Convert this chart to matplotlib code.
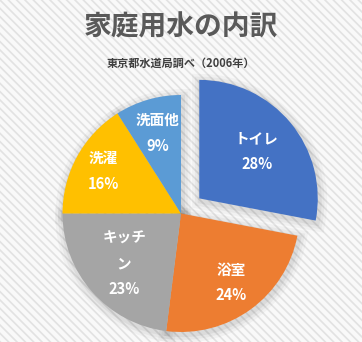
import matplotlib as mpl
mpl.use("Agg")
import matplotlib.pyplot as plt
from matplotlib.patches import Rectangle, Wedge
import numpy as np

plt.rcParams['font.family'] = ['Noto Sans CJK JP', 'DejaVu Sans']
plt.rcParams['hatch.linewidth'] = 1.2

# 家庭用水の内訳（東京都水道局調べ 2006年）
names = ["トイレ", "浴室", "キッチ\nン", "洗濯", "洗面他"]
shares = [28, 24, 23, 16, 9]
colors = ["#4472C4", "#ED7D31", "#A5A5A5", "#FFC000", "#5B9BD5"]
explode = [0.2, 0, 0, 0, 0]
label_r = [0.63, 0.72, 0.64, 0.75, 0.71]

fig = plt.figure(figsize=(3.62, 3.42), dpi=100)
fig.patch.set_facecolor("#f7f7f7")
# 斜線模様の背景
fig.patches.append(Rectangle((0, 0), 1, 1, transform=fig.transFigure,
                             facecolor="#f9f9f9", edgecolor="#e2e2e2",
                             hatch="\\\\\\\\", lw=0, zorder=-10))

ax = fig.add_axes([0, 0, 1, 1])
ax.patch.set_alpha(0)

wedges, _ = ax.pie(shares, colors=colors, explode=explode, startangle=90,
                   counterclock=False, radius=1.0,
                   wedgeprops=dict(linewidth=0))

# 影
for w in wedges:
    for lw, a in [(12, 0.03), (8, 0.04), (4, 0.05)]:
        s = Wedge((w.center[0] + 0.01, w.center[1] - 0.02), w.r, w.theta1, w.theta2,
                  facecolor="none", edgecolor="#000000", lw=lw, alpha=a, zorder=0)
        ax.add_patch(s)
    w.set_zorder(1)

for w, name, v, r in zip(wedges, names, shares, label_r):
    mid = np.deg2rad((w.theta1 + w.theta2) / 2)
    cx, cy = w.center
    ax.text(cx + r * np.cos(mid), cy + r * np.sin(mid), f"{name}\n{v}%",
            ha="center", va="center", color="white", fontsize=10.5,
            fontweight="bold", linespacing=1.75, zorder=3)

ax.set_xlim(-181 / 118.5, 181 / 118.5)
ax.set_ylim(-128.5 / 118.5, 213.5 / 118.5)
ax.set_aspect("auto")
ax.axis("off")

fig.text(0.5, 1 - 27 / 342, "家庭用水の内訳", ha="center", va="center",
         fontsize=20, fontweight="bold", color="#595959")
fig.text(0.5, 1 - 63 / 342, "東京都水道局調べ（2006年）", ha="center", va="center",
         fontsize=8, fontweight="bold", color="#404040")

fig.savefig("out.png", dpi=100, facecolor=fig.get_facecolor())
